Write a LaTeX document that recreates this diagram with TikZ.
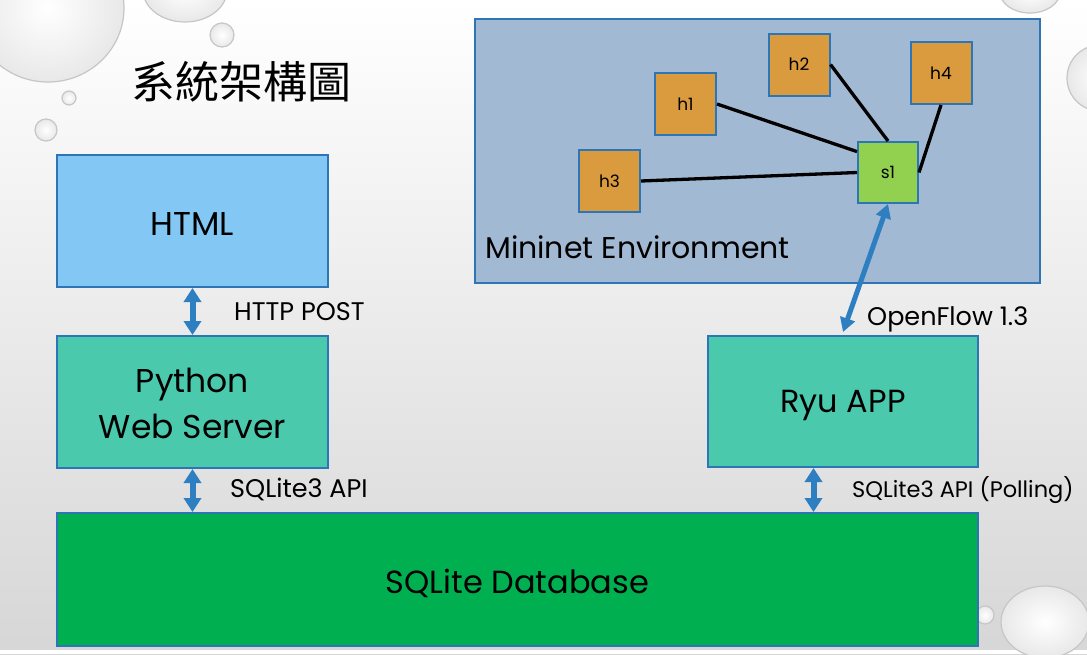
\documentclass[tikz,border=0pt]{standalone}
\usepackage{fontspec}
\setmainfont{Poppins}
\newfontfamily\cjk{Noto Sans CJK TC}
\usetikzlibrary{arrows.meta}
\definecolor{bordblue}{HTML}{2E75B6}
\definecolor{arrblue}{HTML}{2E7FC2}
\definecolor{htmlfill}{HTML}{83C8F4}
\definecolor{tealfill}{HTML}{4BC9AD}
\definecolor{dbfill}{HTML}{00B050}
\definecolor{mnfill}{HTML}{A2B9D4}
\definecolor{hostfill}{HTML}{D99B3D}
\definecolor{swfill}{HTML}{92D050}
\tikzset{
  box/.style={draw=bordblue, line width=2pt, rectangle, inner sep=0pt, align=center},
  boxtext/.style={inner sep=0pt, align=center},
  hostbox/.style={box, fill=hostfill, minimum width=61pt, minimum height=62pt, font=\fontsize{17}{19}\selectfont},
  link/.style={line width=3.3pt, black},
  biarrow/.style={arrblue, line width=6pt, {Triangle[width=17pt,length=14pt]}-{Triangle[width=17pt,length=14pt]}},
  lbl/.style={inner sep=0pt, anchor=base west, font=\fontsize{25.5}{28}\selectfont},
  drop/.style={draw=gray!45, line width=1.2pt, inner color=white, outer color=gray!18},
}
\begin{document}
\begin{tikzpicture}[x=1pt,y=-1pt]
\useasboundingbox (0,0) rectangle (1087,654);
% background
\shade[top color=white, middle color=gray!6, bottom color=gray!32] (0,0) rectangle (1087,654);
\fill[white] (0,650) rectangle (1087,654);
% droplets
\path[drop] (48,8) ellipse [x radius=76, y radius=74];
\path[drop] (185,-10) ellipse [x radius=42, y radius=32];
\path[drop] (222,35) circle [radius=12];
\path[drop] (69,98) circle [radius=7];
\path[drop] (46,130) circle [radius=11];
\path[drop] (1030,-8) ellipse [x radius=30, y radius=21];
\path[drop] (1100,78) circle [radius=33];
\path[drop] (985,615) circle [radius=9];
\path[drop] (1045,622) ellipse [x radius=44, y radius=36];
% title
\node[inner sep=0pt, font=\cjk\fontsize{44}{48}\selectfont] (title) at (241.5,82) {系統架構圖};
% boxes
\node[box, fill=htmlfill, minimum width=271pt, minimum height=132pt] (html) at (192.5,221) {};
\node[boxtext, font=\fontsize{33}{40}\selectfont] (htmlt) at ([yshift=-3pt]html.center) {HTML};
\node[box, fill=tealfill, minimum width=271pt, minimum height=132pt] (py) at (192.5,402) {};
\node[boxtext, font=\fontsize{33}{46}\selectfont] (pyt) at ([yshift=-1.5pt]py.center) {Python\\Web Server};
\node[box, fill=tealfill, minimum width=270pt, minimum height=131pt] (ryu) at (843,401.5) {};
\node[boxtext, font=\fontsize{32}{40}\selectfont] (ryut) at ([yshift=-4pt]ryu.center) {Ryu APP};
\node[box, fill=dbfill, minimum width=921pt, minimum height=133pt] (db) at (517.5,579.5) {};
\node[boxtext, font=\fontsize{32}{40}\selectfont] (dbt) at ([yshift=-4pt]db.center) {SQLite Database};
\node[box, fill=mnfill, minimum width=565pt, minimum height=264pt] (mn) at (757.5,151) {};
\node[lbl, font=\fontsize{30}{33}\selectfont] (mnlabel) at (485,258) {Mininet Environment};
% hosts and switch
\node[hostbox] (h1) at (685.5,104) {h1};
\node[hostbox] (h2) at (799,64.5) {h2};
\node[hostbox] (h4) at (941,73) {h4};
\node[hostbox] (h3) at (609.5,181) {h3};
\node[hostbox, fill=swfill, minimum width=60pt, minimum height=61pt] (s1) at (888,172.5) {s1};
\draw[link] (h1.east) -- (s1.146);
\draw[link] (h2.east) -- (s1.north);
\draw[link] (h3.east) -- (s1.west);
\draw[link] (h4.south) -- (s1.east);
% arrows
\draw[biarrow] (html.south) -- (py.north);
\draw[biarrow] (py.south) -- (py.south |- db.north);
\draw[biarrow] ([xshift=-29.5pt]ryu.south) -- ([xshift=-29.5pt]ryu.south |- db.north);
\draw[biarrow, line width=5pt, {Triangle[width=15pt,length=14pt]}-{Triangle[width=15pt,length=14pt]}] (s1.south) -- ([yshift=3pt]ryu.north);
% labels
\node[lbl] (l1) at (234,320) {HTTP POST};
\node[lbl] (l2) at (230,497) {SQLite3 API};
\node[lbl, font=\fontsize{22.5}{26}\selectfont] (l3) at (852,497) {SQLite3 API (Polling)};
\node[lbl] (l4) at (867,325) {OpenFlow 1.3};
\end{tikzpicture}
\end{document}
